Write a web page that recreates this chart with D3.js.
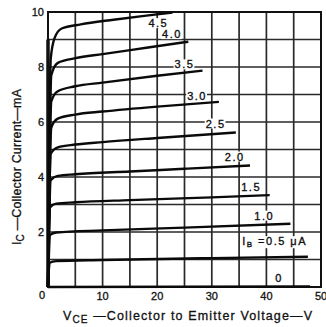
<!DOCTYPE html>
<html><head><meta charset="utf-8">
<script src="https://cdn.jsdelivr.net/npm/d3@7"></script>
<style>
html,body{margin:0;padding:0;background:#fff;}
svg{display:block;}
text{font-family:"Liberation Sans",Arial,sans-serif;fill:#111;}
</style></head>
<body>
<svg id="c" width="326" height="327"></svg>
<script>
// Base current labels (μA) for each curve
const ibLabels = ["4.5","4.0","3.5","3.0","2.5","2.0","1.5","1.0","0.5","0"];
// Curve points: [VCE (V), IC (mA)]
const curve45 = [[0,0],[0.5,8.3],[1.2,9.05],[2.5,9.4],[6,9.55],[12,9.72],[18,9.87],[22.8,9.98]];
const curve40 = [[0,0],[0.6,7.7],[1.8,8.15],[5,8.32],[10,8.47],[18,8.7],[25.7,8.92]];
const curve35 = [[0,0],[0.6,6.75],[1.8,7.12],[5,7.3],[10,7.43],[20,7.68],[28.3,7.87]];
const curve30 = [[0,0],[0.6,5.8],[1.8,6.12],[5,6.27],[10,6.38],[20,6.56],[31.3,6.73]];
const curve25 = [[0,0],[0.5,4.85],[1.8,5.08],[5,5.18],[10,5.27],[20,5.42],[34.4,5.62]];
const curve20 = [[0,0],[0.5,3.88],[1.8,4.04],[5,4.1],[15,4.2],[25,4.3],[37,4.42]];
const curve15 = [[0,0],[0.4,2.9],[1.5,3.03],[5,3.08],[15,3.16],[30,3.26],[40.6,3.34]];
const curve10 = [[0,0],[0.4,1.9],[1.5,1.98],[10,2.06],[25,2.16],[44.4,2.3]];
const curve05 = [[0,0],[0.3,0.88],[1.5,0.94],[10,0.98],[30,1.05],[47.6,1.1]];
const curve00 = [[0,0],[48,0.02]];
const curves = [curve45,curve40,curve35,curve30,curve25,curve20,curve15,curve10,curve05,curve00];
// Label anchor positions in data units [V, mA]
const labelPos = [[20.2,9.45],[22.7,9.05],[25.0,7.95],[27.3,6.8],[30.7,5.8],[34.2,4.6],[37.2,3.5],[39.6,2.45],[41.5,1.52],[42.3,0.18]];
const xTicks = [10,20,30,40,50];
const yTicks = [2,4,6,8,10];

const svg = d3.select("#c");
const x = d3.scaleLinear().domain([0,50]).range([48,321]);
const y = d3.scaleLinear().domain([0,10]).range([287,12]);

// grid
const grid = svg.append("g").attr("stroke","#2a2a2a").attr("stroke-width",1.7);
grid.selectAll("line.v").data(d3.range(5,50,5)).join("line")
  .attr("x1",d=>x(d)).attr("x2",d=>x(d)).attr("y1",y(0)).attr("y2",y(10));
grid.selectAll("line.h").data(d3.range(1,10,1)).join("line")
  .attr("x1",x(0)).attr("x2",x(50)).attr("y1",d=>y(d)).attr("y2",d=>y(d));

// frame
svg.append("rect").attr("x",x(0)).attr("y",y(10)).attr("width",x(50)-x(0)).attr("height",y(0)-y(10))
  .attr("fill","none").attr("stroke","#111").attr("stroke-width",2);
svg.append("line").attr("x1",x(0)).attr("x2",x(0)).attr("y1",y(0)).attr("y2",y(9))
  .attr("stroke","#111").attr("stroke-width",3.5);

// curve labels (with white backgrounds interrupting the grid)
const lg = svg.append("g").attr("font-size",11).attr("letter-spacing",1.5)
  .attr("stroke","#111").attr("stroke-width",0.35);
const labelNodes = [];
ibLabels.forEach((t,i)=>{
  const p = labelPos[i];
  const tx = lg.append("text").attr("x",x(p[0])).attr("y",y(p[1]))
    .attr("text-anchor","middle");
  if (t==="0.5") {
    tx.append("tspan").text("I");
    tx.append("tspan").attr("font-size",8).attr("dy",2).text("B");
    tx.append("tspan").attr("dy",-2).text(" =0.5 μA");
  } else tx.text(t);
  labelNodes.push(tx);
});
labelNodes.forEach(tx=>{
  const b = tx.node().getBBox();
  svg.insert("rect", "g:last-of-type")
    .attr("x",b.x-1).attr("y",b.y+1).attr("width",b.width+1).attr("height",b.height-2)
    .attr("fill","#fff");
});

// curves
const line = d3.line().x(d=>x(d[0])).y(d=>y(d[1])).curve(d3.curveMonotoneX);
svg.append("g").selectAll("path").data(curves).join("path")
  .attr("d",line).attr("fill","none").attr("stroke","#0a0a0a").attr("stroke-width",2.4);

// bring labels to front
lg.raise();

// tick labels
const tk = svg.append("g").attr("font-size",11).attr("stroke","#111").attr("stroke-width",0.3);
tk.selectAll("text.x").data(xTicks).join("text").attr("x",d=>x(d)).attr("y",300)
  .attr("text-anchor","middle").text(d=>d);
tk.selectAll("text.y").data(yTicks).join("text").attr("x",44).attr("y",d=>y(d)+4)
  .attr("text-anchor","end").text(d=>d);
tk.append("text").attr("x",42).attr("y",299).attr("text-anchor","middle").text("0");

// axis titles
const xt = svg.append("text").attr("x",63).attr("y",320).attr("font-size",12.5)
  .attr("textLength",249).attr("lengthAdjust","spacing")
  .attr("stroke","#111").attr("stroke-width",0.3);
xt.append("tspan").text("V");
xt.append("tspan").attr("font-size",10).attr("dy",3).text("CE");
xt.append("tspan").attr("dy",-3).text(" —Collector to Emitter Voltage—V");

const yt = svg.append("text").attr("transform","translate(21,245) rotate(-90)").attr("font-size",12.5)
  .attr("textLength",156).attr("lengthAdjust","spacing")
  .attr("stroke","#111").attr("stroke-width",0.3);
yt.append("tspan").text("I");
yt.append("tspan").attr("font-size",10).attr("dy",3).text("C");
yt.append("tspan").attr("dy",-3).text(" —Collector Current—mA");
</script>
</body></html>
